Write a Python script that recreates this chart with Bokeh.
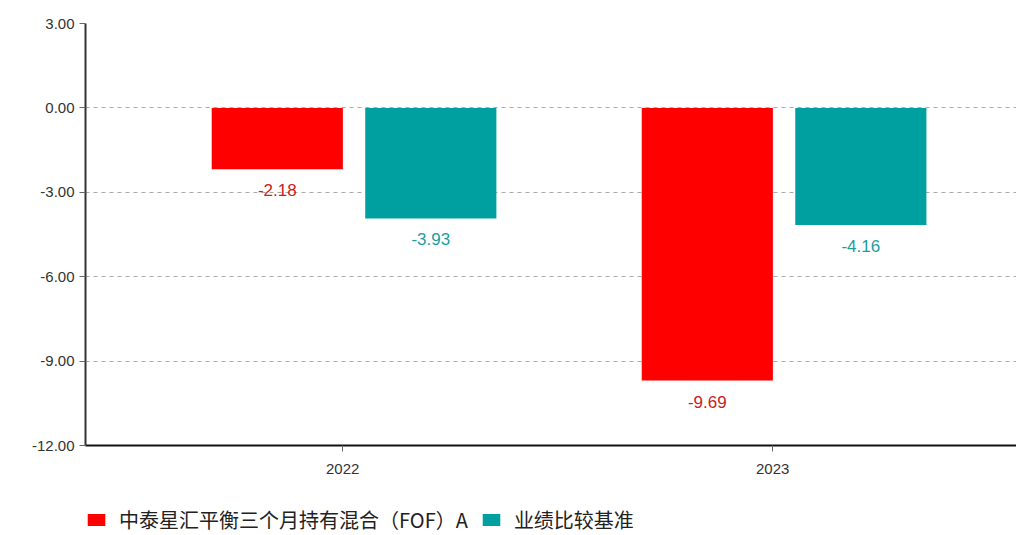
from bokeh.plotting import figure
from bokeh.layouts import column
from bokeh.models import ColumnDataSource, Legend, LegendItem, Range1d, FixedTicker, LabelSet
from bokeh.core.properties import value
from bokeh.transform import dodge
from bokeh.embed import file_html
from bokeh.resources import INLINE

years = ["2022", "2023"]
fund = [-2.18, -9.69]
bench = [-3.93, -4.16]
series_names = ["中泰星汇平衡三个月持有混合（FOF）A", "业绩比较基准"]
y_ticks = [3, 0, -3, -6, -9, -12]
colors = ["#ff0000", "#00a0a0"]

idx = list(range(len(years)))
src = ColumnDataSource(dict(
    x=idx, fund=fund, bench=bench,
    fund_lbl=[f"{v:.2f}" for v in fund],
    bench_lbl=[f"{v:.2f}" for v in bench],
))

p = figure(width=1016, height=497, output_backend="svg", toolbar_location=None,
           x_range=Range1d(-0.598, 1.567), y_range=Range1d(-12, 3),
           min_border_left=85, min_border_right=0, min_border_top=23, min_border_bottom=52)
p.outline_line_color = None
p.xgrid.grid_line_color = None
p.ygrid.grid_line_color = "#aaaaaa"
p.ygrid.grid_line_dash = "4 4"
p.ygrid.ticker = FixedTicker(ticks=y_ticks)

r1 = p.vbar(x=dodge("x", -0.152, range=p.x_range), top="fund", bottom=0, width=0.305,
            source=src, fill_color=colors[0], line_color=None)
r2 = p.vbar(x=dodge("x", 0.205, range=p.x_range), top="bench", bottom=0, width=0.305,
            source=src, fill_color=colors[1], line_color=None)

l1 = LabelSet(x=dodge("x", -0.152, range=p.x_range), y="fund", text="fund_lbl", source=src,
              text_align="center", text_baseline="middle", y_offset=-21,
              text_color="#cc2020", text_font_size="17px", text_font=value("Liberation Sans"))
l2 = LabelSet(x=dodge("x", 0.205, range=p.x_range), y="bench", text="bench_lbl", source=src,
              text_align="center", text_baseline="middle", y_offset=-21,
              text_color="#1a9e9e", text_font_size="17px", text_font=value("Liberation Sans"))
p.add_layout(l1)
p.add_layout(l2)

p.yaxis.ticker = FixedTicker(ticks=y_ticks)
p.yaxis.major_label_overrides = {t: f"{t:.2f}" for t in y_ticks}
p.yaxis.major_label_text_font = "Liberation Sans"
p.yaxis.major_label_text_font_size = "15px"
p.yaxis.major_label_text_color = "#333333"
p.yaxis.axis_line_color = "#333333"
p.yaxis.axis_line_width = 2
p.yaxis.major_tick_line_color = "#666666"
p.yaxis.major_tick_in = 0
p.yaxis.major_tick_out = 6
p.yaxis.minor_tick_line_color = None

p.xaxis.ticker = FixedTicker(ticks=idx)
p.xaxis.major_label_overrides = {i: y for i, y in zip(idx, years)}
p.xaxis.major_label_text_font = "Liberation Sans"
p.xaxis.major_label_text_font_size = "15px"
p.xaxis.major_label_text_color = "#333333"
p.xaxis.axis_line_color = "#111111"
p.xaxis.axis_line_width = 2
p.xaxis.major_tick_line_color = "#666666"
p.xaxis.major_tick_in = 0
p.xaxis.major_tick_out = 6
p.xaxis.minor_tick_line_color = None
p.xaxis.major_label_standoff = 12

# legend strip below the chart (its renderers sit outside the visible range)
p2 = figure(width=1016, height=38, output_backend="svg", toolbar_location=None,
            x_range=Range1d(10, 11), y_range=Range1d(10, 11),
            min_border_left=0, min_border_right=0, min_border_top=0, min_border_bottom=0)
p2.axis.visible = False
p2.grid.grid_line_color = None
p2.outline_line_color = None
g1 = p2.vbar(x="x", top="fund", width=0.3, source=src, fill_color=colors[0], line_color=None)
g2 = p2.vbar(x="x", top="bench", width=0.3, source=src, fill_color=colors[1], line_color=None)

legend = Legend(items=[LegendItem(label=series_names[0], renderers=[g1], index=0),
                       LegendItem(label=series_names[1], renderers=[g2], index=0)],
                orientation="horizontal", location=(0, 1),
                label_text_font="Noto Sans CJK SC", label_text_font_size="20px",
                label_text_color="#222222", glyph_width=22, glyph_height=15,
                spacing=12, label_standoff=12, padding=0, margin=0,
                border_line_color=None, background_fill_alpha=0)
p2.add_layout(legend)

layout = column(p, p2, spacing=0)
open("out.html", "w").write(file_html(layout, INLINE))
